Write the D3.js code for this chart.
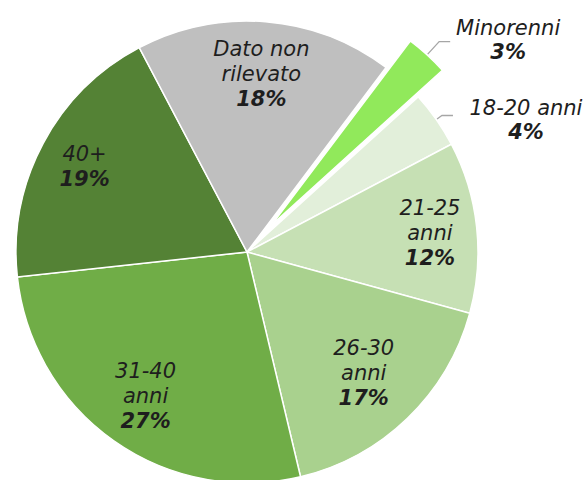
<!DOCTYPE html>
<html>
<head>
<meta charset="utf-8">
<script src="https://cdn.jsdelivr.net/npm/d3@7"></script>
<style>
  html, body { margin: 0; padding: 0; background: #fff; }
  svg { display: block; }
  text { font-family: "DejaVu Sans", Verdana, sans-serif; font-style: italic; fill: #1e1e1e; }
</style>
</head>
<body>
<svg id="chart" width="587" height="480"></svg>
<script>
// Age groups, clockwise from the exploded slice
const categories = ["Minorenni", "18-20 anni", "21-25 anni", "26-30 anni", "31-40 anni", "40+", "Dato non rilevato"];
const values = [3, 4, 12, 17, 27, 19, 18];
// Text lines above the percentage for each slice
const labelLines = [["Minorenni"], ["18-20 anni"], ["21-25", "anni"], ["26-30", "anni"], ["31-40", "anni"], ["40+"], ["Dato non", "rilevato"]];
const colors = ["#91e95b", "#e2efda", "#c6e0b4", "#a9d18e", "#70ad47", "#548235", "#bfbfbf"];

// Layout
const width = 587, height = 480;
const cx = 247, cy = 252, R = 231;
const startDeg = 37;
const explodeIndex = 0, explodeDist = 36;
// distance of inside labels from the centre (null = label placed outside with a leader)
const labelDist = [null, null, 184, 168, 176, 184, 179];
// outside labels: elbow radius beyond the rim, horizontal run, text centre offset, first baseline
const outside = {
  0: { elbow: 18, run: 11, textDx: 69, baseY: 35 },
  1: { elbow: 7, run: 11, textDx: 84, baseY: 115 }
};
const fontSize = 21, lineH = 25;

const svg = d3.select("#chart");
const g = svg.append("g").attr("transform", `translate(${cx},${cy})`);

const toRad = d => d * Math.PI / 180;
const pie = d3.pie().sort(null).value(d => d.value)
  .startAngle(toRad(startDeg)).endAngle(toRad(startDeg + 360));
const data = categories.map((c, i) => ({ name: c, value: values[i], i }));
const arcs = pie(data);
const arc = d3.arc().innerRadius(0).outerRadius(R);

const total = d3.sum(values);
const pct = v => Math.round(v / total * 100) + "%";

// offset of a slice along its mid angle
function offset(a, dist) {
  const m = (a.startAngle + a.endAngle) / 2;
  return [Math.sin(m) * dist, -Math.cos(m) * dist];
}

g.selectAll("path.slice")
  .data(arcs)
  .join("path")
  .attr("class", "slice")
  .attr("d", arc)
  .attr("fill", d => colors[d.data.i])
  .attr("stroke", "#fff")
  .attr("stroke-width", 1.5)
  .attr("transform", d => {
    if (d.data.i !== explodeIndex) return null;
    const [ox, oy] = offset(d, explodeDist);
    return `translate(${ox},${oy})`;
  });

// labels
arcs.forEach(a => {
  const i = a.data.i;
  const lines = labelLines[i];
  const m = (a.startAngle + a.endAngle) / 2;
  if (labelDist[i] !== null) {
    const d = labelDist[i];
    const x = Math.sin(m) * d, y = -Math.cos(m) * d;
    const n = lines.length + 1;
    // visual centre of the block sits at (x, y)
    const firstBase = y + 7.5 - (n - 1) * lineH / 2;
    const t = g.append("text").attr("text-anchor", "middle").attr("font-size", fontSize);
    lines.forEach((l, k) => t.append("tspan").attr("x", x).attr("y", firstBase + k * lineH).text(l));
    t.append("tspan").attr("x", x).attr("y", firstBase + lines.length * lineH)
      .attr("font-weight", "bold").text(pct(a.data.value));
  } else {
    const o = outside[i];
    const [ox, oy] = i === explodeIndex ? offset(a, explodeDist) : [0, 0];
    const p0 = [ox + Math.sin(m) * (R + 1), oy - Math.cos(m) * (R + 1)];
    const p1 = [ox + Math.sin(m) * (R + o.elbow), oy - Math.cos(m) * (R + o.elbow)];
    const p2 = [p1[0] + o.run, p1[1]];
    g.append("path")
      .attr("d", d3.line()([p0, p1, p2]))
      .attr("fill", "none")
      .attr("stroke", "#a6a6a6")
      .attr("stroke-width", 1.3);
    const tx = p1[0] + o.textDx;
    const t = svg.append("text").attr("text-anchor", "middle").attr("font-size", fontSize);
    t.append("tspan").attr("x", cx + tx).attr("y", o.baseY).text(lines[0]);
    t.append("tspan").attr("x", cx + tx).attr("y", o.baseY + 24)
      .attr("font-weight", "bold").text(pct(a.data.value));
  }
});
</script>
</body>
</html>
